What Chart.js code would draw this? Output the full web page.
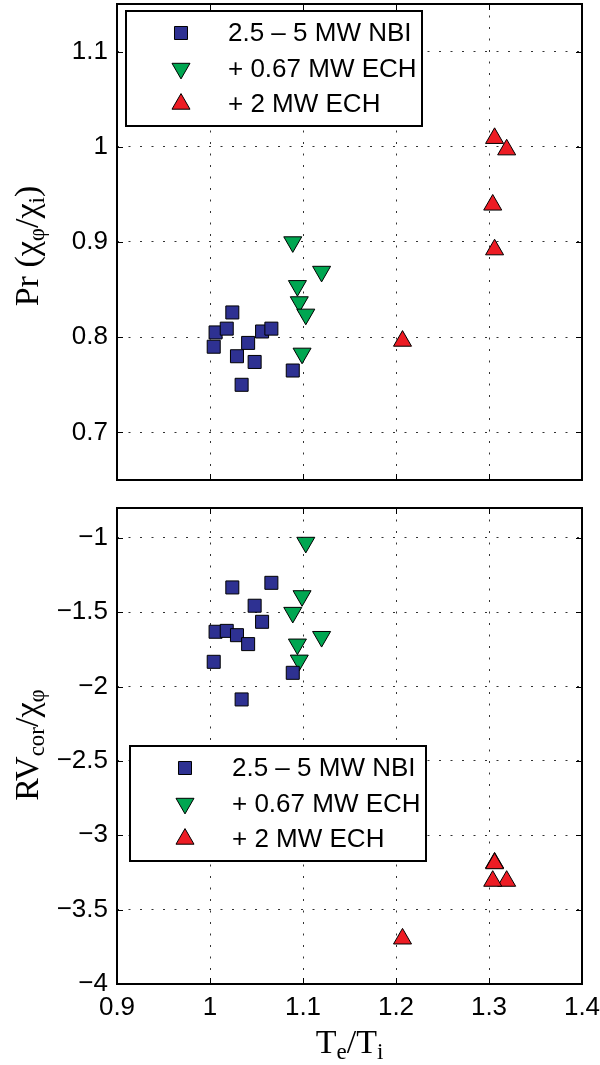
<!DOCTYPE html>
<html>
<head>
<meta charset="utf-8">
<script src="https://cdn.jsdelivr.net/npm/chart.js@4/dist/chart.umd.min.js"></script>
<style>
  html, body { margin: 0; padding: 0; background: #fff; }
  .panel { position: absolute; left: 0; width: 600px; }
  #topWrap { top: 0; height: 496px; }
  #botWrap { top: 496px; height: 569px; }
</style>
</head>
<body>
<div class="panel" id="topWrap"><canvas id="prChart"></canvas></div>
<div class="panel" id="botWrap"><canvas id="rvChart"></canvas></div>
<script>
// series labels
const seriesLabels = ['2.5 \u2013 5 MW NBI', '+ 0.67 MW ECH', '+ 2 MW ECH'];

// NBI only
const nbiTe = [1.004, 1.006, 1.018, 1.024, 1.029, 1.041, 1.034, 1.048, 1.056, 1.066, 1.089];
const nbiPr = [0.790, 0.805, 0.809, 0.826, 0.780, 0.794, 0.750, 0.774, 0.806, 0.809, 0.765];
const nbiRV = [-1.834, -1.632, -1.626, -1.334, -1.655, -1.715, -2.087, -1.457, -1.565, -1.303, -1.908];

// + 0.67 MW ECH
const ech1Te = [1.089, 1.120, 1.094, 1.096, 1.103, 1.099];
const ech1Pr = [0.900, 0.869, 0.854, 0.837, 0.824, 0.783];
const ech1RV = [-1.503, -1.665, -1.716, -1.824, -1.032, -1.391];

// + 2 MW ECH
const ech2Te = [1.306, 1.319, 1.304, 1.306, 1.207];
const ech2Pr = [1.009, 0.997, 0.939, 0.892, 0.796];
const ech2RV = [-3.185, -3.308, -3.308, -3.190, -3.696];

// ticks
const xTicks  = [0.9, 1.0, 1.1, 1.2, 1.3, 1.4];
const prTicks = [0.7, 0.8, 0.9, 1.0, 1.1];
const rvTicks = [-4, -3.5, -3, -2.5, -2, -1.5, -1];

const COLORS = { nbi: '#2e3192', ech1: '#00a651', ech2: '#ed1c24' };
const TICK_FONT = { family: "'Liberation Sans', Arial, sans-serif", size: 26 };
const SERIF = "'Liberation Serif', 'Times New Roman', serif";

const fmt = v => String(Math.round(v * 100) / 100).replace('-', '\u2212');
const pts = (xs, ys) => xs.map((x, i) => ({ x, y: ys[i] }));
const noPad = s => { s.paddingTop = s.paddingBottom = s.paddingLeft = s.paddingRight = 0; };

function makeDatasets(nbiY, ech1Y, ech2Y) {
  const base = { borderColor: '#000', borderWidth: 1, pointBorderWidth: 1, showLine: false };
  return [
    { ...base, label: seriesLabels[0], data: pts(nbiTe, nbiY), backgroundColor: COLORS.nbi,
      pointStyle: 'rect', pointRadius: 9.2 },
    { ...base, label: seriesLabels[1], data: pts(ech1Te, ech1Y), backgroundColor: COLORS.ech1,
      pointStyle: 'triangle', pointRotation: 180, pointRadius: 10.4 },
    { ...base, label: seriesLabels[2], data: pts(ech2Te, ech2Y), backgroundColor: COLORS.ech2,
      pointStyle: 'triangle', pointRadius: 10.4 },
  ];
}

// frame, inward ticks, boxed legend, rich axis titles
const matlabAxes = {
  id: 'matlabAxes',
  afterDatasetsDraw(chart, args, opts) {
    const { ctx, chartArea: a } = chart;
    const xs = chart.scales.x, ys = chart.scales.y;
    ctx.save();
    ctx.strokeStyle = '#000';
    ctx.lineWidth = 1;
    ctx.beginPath();
    xs.ticks.forEach(t => {
      const px = Math.round(xs.getPixelForValue(t.value)) + 0.5;
      ctx.moveTo(px, a.top); ctx.lineTo(px, a.top + 6);
      ctx.moveTo(px, a.bottom); ctx.lineTo(px, a.bottom - 6);
    });
    ys.ticks.forEach(t => {
      const py = Math.round(ys.getPixelForValue(t.value)) + 0.5;
      ctx.moveTo(a.left, py); ctx.lineTo(a.left + 6, py);
      ctx.moveTo(a.right, py); ctx.lineTo(a.right - 6, py);
    });
    ctx.stroke();
    ctx.lineWidth = 2;
    ctx.strokeRect(a.left, a.top, a.right - a.left, a.bottom - a.top);

    // legend box
    const L = opts.legend;
    ctx.fillStyle = '#fff';
    ctx.fillRect(L.x, L.y, L.w, L.h);
    ctx.lineWidth = 2;
    ctx.strokeRect(L.x, L.y, L.w, L.h);
    ctx.font = '26px ' + TICK_FONT.family;
    ctx.textBaseline = 'middle';
    ctx.textAlign = 'left';
    chart.data.datasets.forEach((ds, i) => {
      const ry = L.y + L.rows[i];
      ctx.fillStyle = ds.backgroundColor;
      ctx.strokeStyle = '#000';
      ctx.lineWidth = 1;
      Chart.helpers.drawPoint(ctx, {
        pointStyle: ds.pointStyle, radius: ds.pointRadius,
        rotation: ds.pointRotation || 0, borderWidth: 1
      }, L.x + 55, ry);
      ctx.fillStyle = '#000';
      ctx.fillText(ds.label, L.x + 102, ry + 1);
    });

    // axis titles
    drawRich(ctx, opts.yTitle, 27, (a.top + a.bottom) / 2 + opts.yTitleShift, -Math.PI / 2);
    if (opts.xTitle) drawRich(ctx, opts.xTitle, (a.left + a.right) / 2, a.bottom + 58, 0);
    ctx.restore();
  }
};

function drawRich(ctx, parts, cx, cy, rot) {
  const big = 34, small = 23;
  ctx.save();
  ctx.translate(cx, cy);
  ctx.rotate(rot);
  ctx.fillStyle = '#000';
  ctx.textBaseline = 'alphabetic';
  ctx.textAlign = 'left';
  let total = 0;
  parts.forEach(p => {
    ctx.font = (p.sub ? small : big) + 'px ' + SERIF;
    total += ctx.measureText(p.t).width;
  });
  let x = -total / 2;
  parts.forEach(p => {
    ctx.font = (p.sub ? small : big) + 'px ' + SERIF;
    ctx.fillText(p.t, x, p.sub ? 17 : 11);
    x += ctx.measureText(p.t).width;
  });
  ctx.restore();
}

function makeScatter(id, datasets, yMin, yMax, yTicks, pad, showX, pluginOpts) {
  return new Chart(document.getElementById(id), {
    type: 'scatter',
    data: { datasets },
    options: {
      responsive: true, maintainAspectRatio: false, animation: false,
      layout: { padding: pad, autoPadding: false },
      plugins: { legend: { display: false }, tooltip: { enabled: false }, matlabAxes: pluginOpts },
      scales: {
        x: {
          type: 'linear', min: 0.9, max: 1.4,
          afterBuildTicks: s => { s.ticks = xTicks.map(v => ({ value: v })); },
          afterFit: s => { s.height = showX ? 81 : 0; noPad(s); },
          ticks: { display: showX, font: TICK_FONT, color: '#000', padding: 8, maxRotation: 0, callback: fmt },
          grid: { color: '#333', lineWidth: 1, drawTicks: false },
          border: { display: false, dash: [2, 9.5] },
        },
        y: {
          type: 'linear', min: yMin, max: yMax,
          afterBuildTicks: s => { s.ticks = yTicks.map(v => ({ value: v })); },
          afterFit: s => { s.width = 117; noPad(s); },
          ticks: { font: TICK_FONT, color: '#000', padding: 9, callback: fmt },
          grid: { color: '#333', lineWidth: 1, drawTicks: false },
          border: { display: false, dash: [2, 9.5] },
        },
      },
    },
    plugins: [matlabAxes],
  });
}

makeScatter('prChart', makeDatasets(nbiPr, ech1Pr, ech2Pr), 0.65, 1.15, prTicks,
  { top: 4, right: 18, bottom: 16, left: 0 }, false,
  {
    legend: { x: 126, y: 11, w: 296, h: 115, rows: [22, 57.5, 93] },
    yTitle: [{ t: 'Pr (\u03c7' }, { t: '\u03c6', sub: true }, { t: '/\u03c7' }, { t: 'i', sub: true }, { t: ')' }],
    yTitleShift: 4,
  });

makeScatter('rvChart', makeDatasets(nbiRV, ech1RV, ech2RV), -4, -0.8, rvTicks,
  { top: 12, right: 18, bottom: 0, left: 0 }, true,
  {
    legend: { x: 130, y: 250, w: 296, h: 115, rows: [22, 57.5, 93] },
    yTitle: [{ t: 'RV' }, { t: 'cor', sub: true }, { t: '/\u03c7' }, { t: '\u03c6', sub: true }],
    yTitleShift: -1,
    xTitle: [{ t: 'T' }, { t: 'e', sub: true }, { t: '/T' }, { t: 'i', sub: true }],
  });
</script>
</body>
</html>
